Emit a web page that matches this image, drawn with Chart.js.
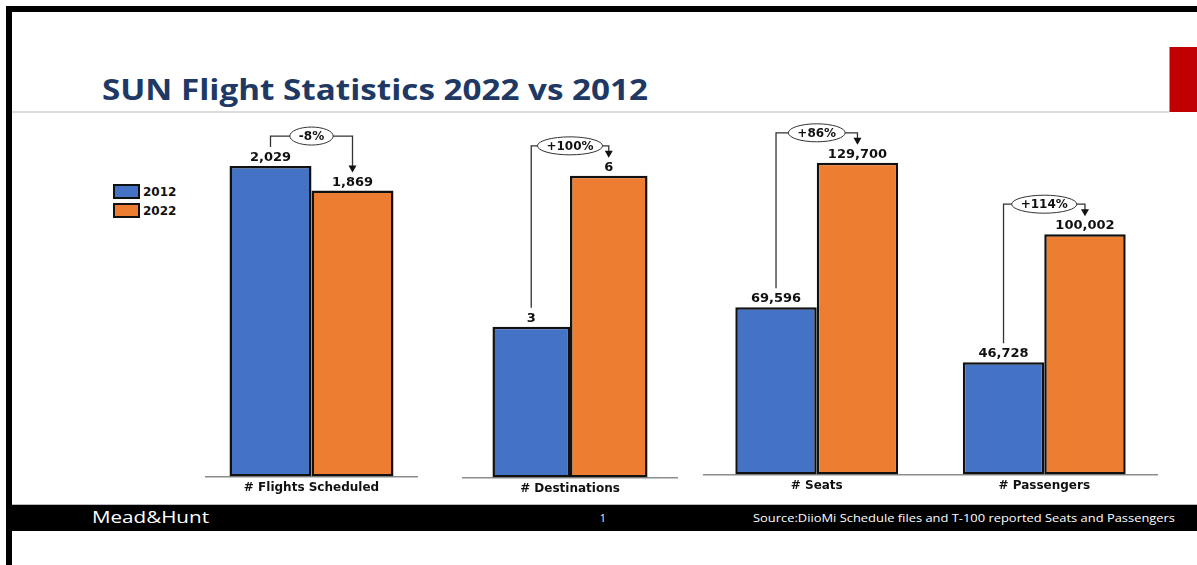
<!DOCTYPE html>
<html lang="en">
<head>
  <meta charset="UTF-8" />
  <title>SUN Flight Statistics 2022 vs 2012</title>
  <script src="https://cdn.jsdelivr.net/npm/chart.js"></script>
  <style>
    html, body { margin: 0; padding: 0; background: #fff; }
    body { width: 1197px; height: 565px; position: relative; overflow: hidden; font-family: "Open Sans", sans-serif; }
    .abs { position: absolute; }
    .frame-top { left: 6px; top: 6px; width: 1191px; height: 6px; background: #000; }
    .frame-left { left: 6px; top: 6px; width: 6px; height: 559px; background: #000; }
    .title-rule { left: 12px; top: 111px; width: 1157px; height: 2px; background: #dcdcdc; }
    .red-tab { left: 1169px; top: 47px; width: 28px; height: 65px; background: #c00000; border-left: 1px solid #e08080; box-sizing: border-box; }
    .title { left: 102px; top: 75px; font-size: 28px; line-height: 28px; font-weight: 700; color: #203864; white-space: nowrap; transform-origin: 0 0; }
    .footer { left: 12px; top: 504px; width: 1185px; height: 27px; background: #000; border-top: 1px solid #bbb; box-sizing: border-box; }
    .foot-text { color: #fff; white-space: nowrap; transform-origin: 0 0; }
    .legend-box { width: 27px; height: 15px; border: 2px solid #111; box-sizing: border-box; }
    .legend-text { font: bold 12px "DejaVu Sans", sans-serif; color: #111; line-height: 14px; }
    canvas { position: absolute; }
  </style>
</head>
<body>

<div class="abs frame-top"></div>
<div class="abs frame-left"></div>
<div class="abs red-tab"></div>
<div class="abs title-rule"></div>
<div class="abs title" data-w="546">SUN Flight Statistics 2022 vs 2012</div>

<!-- Legende -->
<div class="abs legend-box" style="left:113px; top:184px; background:#4472c4;"></div>
<div class="abs legend-text" style="left:143px; top:185px;">2012</div>
<div class="abs legend-box" style="left:113px; top:203px; background:#ed7d31;"></div>
<div class="abs legend-text" style="left:143px; top:204px;">2022</div>

<canvas id="flightsChart" width="213" height="383" style="left:205px; top:116px;"></canvas>
<canvas id="destChart" width="216" height="384" style="left:462px; top:116px;"></canvas>
<canvas id="trafficChart" width="455" height="381" style="left:703px; top:116px;"></canvas>

<div class="abs footer"></div>
<div class="abs foot-text" data-w="117" style="left:92px; top:509px; font-size:16px; line-height:16px;">Mead&amp;Hunt</div>
<div class="abs foot-text" style="left:600px; top:512px; font-size:10px; line-height:12px;">1</div>
<div class="abs foot-text" data-w="422" style="left:753px; top:511px; font-size:11px; line-height:13px;">Source:DiioMi Schedule files and T-100 reported Seats and Passengers</div>

<script>
  // Daten
  const seriesNames = ['2012', '2022'];

  const flightLabels = ['# Flights Scheduled'];
  const flights2012 = [2029];
  const flights2022 = [1869];
  const flightChange = ['-8%'];

  const destLabels = ['# Destinations'];
  const dest2012 = [3];
  const dest2022 = [6];
  const destChange = ['+100%'];

  const trafficLabels = ['# Seats', '# Passengers'];
  const traffic2012 = [69596, 46728];
  const traffic2022 = [129700, 100002];
  const trafficChange = ['+86%', '+114%'];

  const blue = '#4472c4';
  const orange = '#ed7d31';
  const valueFont = 'bold 13px "DejaVu Sans"';
  const changeFont = 'bold 12px "DejaVu Sans"';

  // Werte über den Balken + Klammer mit Veränderung
  function annotatePlugin(changes) {
    return {
      id: 'annotate',
      afterDatasetsDraw(chart) {
        const ctx = chart.ctx;
        const a = chart.getDatasetMeta(0).data;
        const b = chart.getDatasetMeta(1).data;
        ctx.save();
        ctx.font = valueFont;
        ctx.fillStyle = '#111';
        ctx.textAlign = 'center';
        ctx.textBaseline = 'alphabetic';
        chart.data.datasets.forEach((ds, i) => {
          chart.getDatasetMeta(i).data.forEach((bar, j) => {
            ctx.fillText(ds.data[j].toLocaleString('en-US'), bar.x, bar.y - 5);
          });
        });

        ctx.font = changeFont;
        changes.forEach((txt, j) => {
          const x1 = a[j].x, x2 = b[j].x;
          const y1 = a[j].y - 19, y2 = b[j].y - 18;
          const top = Math.min(a[j].y, b[j].y) - 30;
          ctx.strokeStyle = '#333';
          ctx.lineWidth = 1.3;
          ctx.beginPath();
          ctx.moveTo(x1, y1);
          ctx.lineTo(x1, top);
          ctx.lineTo(x2, top);
          ctx.lineTo(x2, y2 - 6);
          ctx.stroke();
          ctx.fillStyle = '#111';
          ctx.beginPath();
          ctx.moveTo(x2 - 4, y2 - 7);
          ctx.lineTo(x2 + 4, y2 - 7);
          ctx.lineTo(x2, y2);
          ctx.closePath();
          ctx.fill();

          const w = ctx.measureText(txt).width + 18;
          const cx = (x1 + x2) / 2;
          ctx.beginPath();
          ctx.ellipse(cx, top, w / 2, 9, 0, 0, Math.PI * 2);
          ctx.fillStyle = '#fff';
          ctx.fill();
          ctx.lineWidth = 1;
          ctx.strokeStyle = '#333';
          ctx.stroke();
          ctx.fillStyle = '#111';
          ctx.textBaseline = 'middle';
          ctx.fillText(txt, cx, top + 1);
          ctx.textBaseline = 'alphabetic';
        });
        ctx.restore();
      }
    };
  }

  function makeChart(id, labels, d2012, d2022, changes, yMax, catPct) {
    return new Chart(document.getElementById(id), {
      type: 'bar',
      data: {
        labels: labels,
        datasets: [
          { label: seriesNames[0], data: d2012, backgroundColor: blue },
          { label: seriesNames[1], data: d2022, backgroundColor: orange }
        ]
      },
      options: {
        responsive: false,
        animation: false,
        events: [],
        layout: { padding: 0 },
        datasets: {
          bar: {
            borderColor: '#111',
            borderWidth: 2.5,
            borderSkipped: false,
            barPercentage: 1,
            categoryPercentage: catPct
          }
        },
        plugins: { legend: { display: false }, tooltip: { enabled: false } },
        scales: {
          x: {
            grid: { display: false, drawTicks: false },
            border: { display: true, color: '#8c8c8c', width: 1.5 },
            ticks: { color: '#111', padding: 4, font: { family: 'DejaVu Sans', size: 12, weight: 'bold' } }
          },
          y: { display: false, min: 0, max: yMax }
        }
      },
      plugins: [annotatePlugin(changes)]
    });
  }

  makeChart('flightsChart', flightLabels, flights2012, flights2022, flightChange, 2356, 0.77);
  makeChart('destChart', destLabels, dest2012, dest2022, destChange, 7.19, 0.718);
  makeChart('trafficChart', trafficLabels, traffic2012, traffic2022, trafficChange, 149170, 0.716);

  // Texte auf Zielbreite bringen
  document.fonts.ready.then(() => {
    document.querySelectorAll('[data-w]').forEach(el => {
      const w = el.getBoundingClientRect().width;
      el.style.transform = 'scaleX(' + (parseFloat(el.dataset.w) / w) + ')';
    });
  });
</script>

</body>
</html>
